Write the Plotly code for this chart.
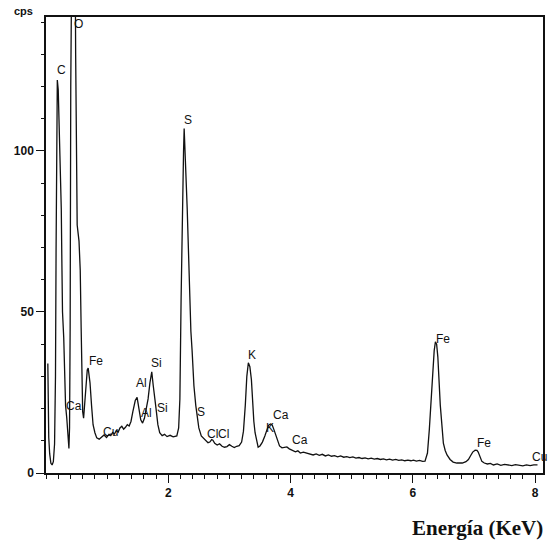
import plotly.graph_objects as go

# Energy (keV) and counts (cps)
energy = [0.03, 0.035, 0.045, 0.06, 0.08, 0.10, 0.12, 0.14, 0.155, 0.165, 0.175, 0.185,
          0.20, 0.215, 0.235, 0.25, 0.26, 0.27, 0.29, 0.305, 0.32, 0.34, 0.36, 0.375,
          0.385, 0.395, 0.405, 0.42, 0.45, 0.47, 0.485, 0.495, 0.51, 0.54, 0.56, 0.575,
          0.59, 0.60, 0.615, 0.635, 0.655, 0.675, 0.69, 0.705, 0.72, 0.745, 0.77, 0.80,
          0.83, 0.87, 0.91, 0.95, 0.99, 1.03, 1.06, 1.09, 1.12, 1.15, 1.18, 1.21, 1.24,
          1.27, 1.30, 1.33, 1.36, 1.39, 1.42, 1.46, 1.49, 1.52, 1.55, 1.58, 1.61, 1.64,
          1.67, 1.70, 1.73, 1.755, 1.78, 1.80, 1.83, 1.86, 1.90, 1.94, 1.98, 2.03, 2.08,
          2.12, 2.14, 2.17, 2.19, 2.21, 2.23, 2.25, 2.26, 2.27, 2.29, 2.31, 2.33, 2.35,
          2.37, 2.39, 2.42, 2.45, 2.47, 2.50, 2.54, 2.57, 2.61, 2.65, 2.68, 2.71, 2.73,
          2.76, 2.80, 2.84, 2.88, 2.92, 2.96, 3.00, 3.04, 3.08, 3.12, 3.16, 3.20, 3.23,
          3.26, 3.285, 3.31, 3.335, 3.36, 3.38, 3.40, 3.42, 3.45, 3.47, 3.50, 3.54, 3.58,
          3.61, 3.64, 3.67, 3.70, 3.73, 3.76, 3.79, 3.82, 3.86, 3.90, 3.94, 3.98, 4.03,
          4.08, 4.12, 4.16, 4.21, 4.27, 4.32, 4.37, 4.42, 4.47, 4.52, 4.57, 4.62, 4.67,
          4.72, 4.77, 4.82, 4.87, 4.92, 4.97, 5.02, 5.07, 5.12, 5.17, 5.22, 5.27, 5.32,
          5.37, 5.42, 5.47, 5.52, 5.57, 5.62, 5.67, 5.72, 5.77, 5.82, 5.87, 5.92, 5.97,
          6.01, 6.06, 6.11, 6.16, 6.20, 6.24, 6.27, 6.30, 6.33, 6.35, 6.37, 6.39, 6.41,
          6.43, 6.45, 6.48, 6.50, 6.53, 6.56, 6.61, 6.66, 6.72, 6.81, 6.87, 6.91, 6.95,
          6.98, 7.02, 7.05, 7.07, 7.10, 7.13, 7.17, 7.22, 7.27, 7.32, 7.38, 7.44, 7.50,
          7.56, 7.62, 7.68, 7.74, 7.80, 7.86, 7.92, 7.98, 8.04]
cps = [34, 22, 11, 6, 3, 2.5, 3.5, 9, 30, 70, 110, 122,
       119, 108, 95, 82, 65, 50, 42, 30, 21, 17, 10, 7.6,
       14, 45, 120, 190, 230, 190, 130, 90, 77, 72, 63, 45,
       28, 19, 17, 23, 29, 32, 32.6, 30.5, 28, 21, 15, 12.5,
       10.9, 10.5, 11.2, 11.8, 11.0, 12.0, 11.6, 12.6, 12.1, 13.2, 12.7, 14.0, 14.5,
       13.6, 14.2, 15.0, 14.6, 16.0, 19.0, 22.5, 23.5, 20, 16.5, 15.5, 17, 20,
       23, 28, 31.4, 27, 22, 20, 15, 12.5, 11.6, 12.0, 11.3, 11.7, 11.2,
       11.5, 11.5, 14, 23, 54, 85, 100, 107, 103, 92, 82, 68, 54,
       44, 38, 27, 21, 17.5, 14, 11.5, 10.9, 10.2, 9.4, 9.6, 10.4, 10.2,
       9.2, 8.7, 9.1, 8.3, 8.0, 8.2, 8.8, 8.3, 7.9, 8.3, 8.5, 9.6, 13,
       21, 30, 34.2, 33, 29, 22, 16, 12.5, 9.5, 8.0, 8.4, 9.6, 11.5,
       13, 14.8, 15.2, 14.9, 13.4, 11.5, 9.5, 8.4, 7.8, 8.0, 8.1, 7.5, 7.1,
       6.6, 6.9, 6.2, 6.5, 6.2, 6.0, 5.6, 5.9, 5.5, 5.8, 5.3, 5.6, 5.2,
       5.4, 5.0, 5.3, 4.9, 5.1, 4.8, 5.0, 4.6, 4.8, 4.5, 4.7, 4.4, 4.6,
       4.3, 4.5, 4.2, 4.4, 4.1, 4.3, 4.0, 4.2, 3.9, 4.1, 3.8, 4.0, 3.8,
       4.0, 3.7, 3.9, 3.6, 3.7, 6.2, 13.4, 23.6, 33, 38, 40.7, 40, 36,
       28, 21, 14, 9.3, 7, 5.6, 4.2, 3.4, 3.1, 3.1, 3.5, 4.2, 5.5,
       6.5, 7.1, 7.0, 6.5, 4.7, 3.6, 3.1, 2.8, 3.0, 2.5, 2.8, 2.4, 2.7,
       2.5, 2.3, 2.6, 2.4, 2.2, 2.5, 2.3, 2.5, 2.5]

# Peak labels (the last "Cu" sits at the right edge)
peak_labels = ["C", "O", "Fe", "Ca", "Cu", "Al", "Al", "Si", "Si", "S", "S", "Cl", "Cl",
               "K", "K", "Ca", "Ca", "Fe", "Fe"]
label_x = [0.26, 0.53, 0.82, 0.46, 1.05, 1.57, 1.65, 1.80, 1.90, 2.32, 2.54, 2.73, 2.91,
           3.37, 3.67, 3.85, 4.16, 6.50, 7.17]
label_y = [125, 139.4, 34.8, 20.8, 12.7, 28, 18.6, 34.2, 20.2, 109.6, 19, 12, 12,
           36.6, 14, 18, 10.2, 41.6, 9.3]
edge_label = "Cu"
edge_label_y = 5

x_ticks = [2, 4, 6, 8]
y_ticks = [0, 50, 100]

# plot area in pixels
L, R, T, B = 46, 543, 17, 473
W, H = R - L, B - T

def px(xp):
    return (xp - L) / W

def py(yp):
    return (B - yp) / H

fig = go.Figure()
fig.add_trace(go.Scatter(x=energy, y=cps, mode="lines",
                         line=dict(color="#111111", width=1.3), showlegend=False))

lab_font = dict(family="Liberation Sans, Arial", size=12, color="#111111")
for t, lx, ly in zip(peak_labels, label_x, label_y):
    fig.add_annotation(x=lx, y=ly, text=t, showarrow=False, xref="x", yref="y",
                       xanchor="center", yanchor="middle", font=lab_font)

fig.add_annotation(text=edge_label, x=px(549), y=edge_label_y, xref="paper", yref="y",
                   showarrow=False, xanchor="right", yanchor="middle", font=lab_font)

fig.add_annotation(text="cps", x=px(23), y=py(11), xref="paper", yref="paper",
                   showarrow=False, xanchor="center", yanchor="middle",
                   font=dict(family="Liberation Sans, Arial", size=11, color="#111111",
                             weight="bold"))
fig.add_annotation(text="Energía (KeV)", x=px(545), y=py(528), xref="paper", yref="paper",
                   showarrow=False, xanchor="right", yanchor="middle",
                   font=dict(family="Liberation Serif, Times New Roman", size=21,
                             color="#111111", weight="bold"))

axis_font = dict(family="Liberation Sans, Arial", size=12, color="#111111", weight="bold")
fig.update_xaxes(range=[0, 8.13], tickvals=x_ticks, ticks="outside", ticklen=8, tickwidth=1.3,
                 tickcolor="#111111", showline=True, linecolor="#111111", linewidth=1.5,
                 mirror=True, showgrid=False, zeroline=False, tickfont=axis_font,
                 automargin=False,
                 minor=dict(tickmode="linear", tick0=0, dtick=0.2, ticks="outside",
                            ticklen=4, tickcolor="#111111", tickwidth=1, showgrid=False))
fig.update_yaxes(range=[0, 141.6], tickvals=y_ticks, ticks="outside", ticklen=8, tickwidth=1.3,
                 tickcolor="#111111", showline=True, linecolor="#111111", linewidth=1.5,
                 mirror=True, showgrid=False, zeroline=False, tickfont=axis_font,
                 automargin=False,
                 minor=dict(tickmode="linear", tick0=0, dtick=10, ticks="outside",
                            ticklen=3, tickcolor="#111111", tickwidth=1, showgrid=False))

fig.update_layout(width=550, height=544, margin=dict(l=L, r=550 - R, t=T, b=544 - B),
                  paper_bgcolor="white", plot_bgcolor="white")

fig.write_html("out.html", config={"displayModeBar": False},
               post_script="document.body.style.margin='0';document.body.style.overflow='hidden';")
